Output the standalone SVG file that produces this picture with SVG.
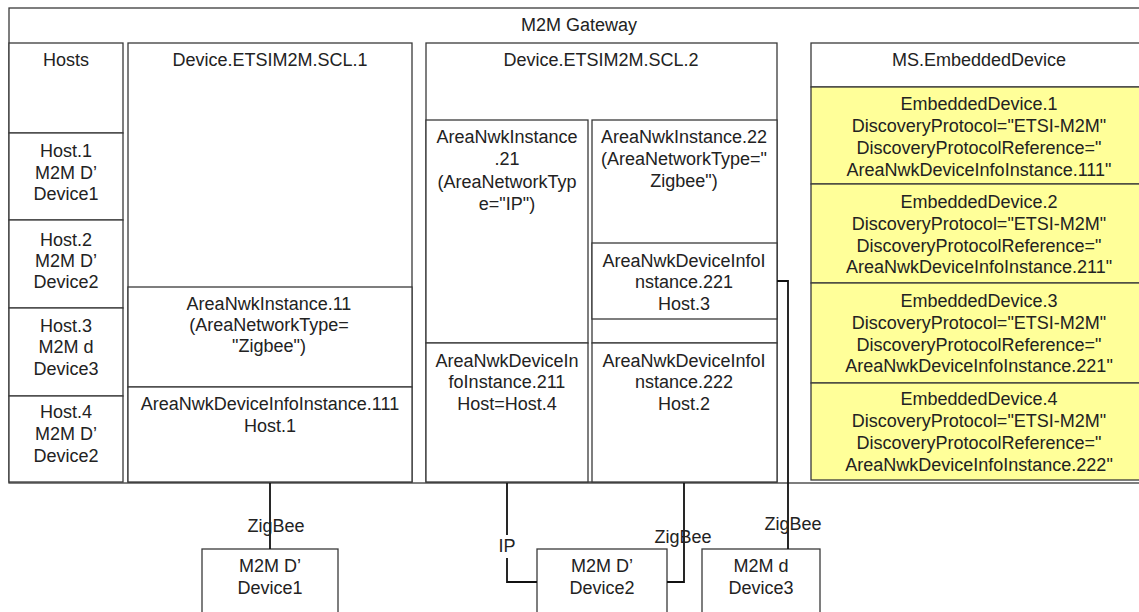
<svg xmlns="http://www.w3.org/2000/svg" width="1139" height="612" viewBox="0 0 1139 612">
<style>
rect{fill:#fff;stroke:#3a3a3a;stroke-width:1.3}
rect.y{fill:#ffff99}
line.d{stroke:#3a3a3a;stroke-width:1.3}
text{font-family:"Liberation Sans",Arial,sans-serif;font-size:18px;fill:#222;text-anchor:middle}
.c{fill:none;stroke:#111;stroke-width:1.8}
</style>
<rect x="0" y="0" width="1139" height="612" style="stroke:none"/>
<g id="gateway">
<rect x="9" y="8" width="1145" height="475"/>
<text x="579" y="31">M2M Gateway</text>
</g>
<g id="hosts">
<rect x="9" y="43" width="114" height="90"/>
<text x="66" y="66">Hosts</text>
<rect x="9" y="133" width="114" height="87"/>
<text x="66" y="157">Host.1<tspan x="66" y="179">M2M D’</tspan><tspan x="66" y="200">Device1</tspan></text>
<rect x="9" y="220" width="114" height="88"/>
<text x="66" y="246">Host.2<tspan x="66" y="267">M2M D’</tspan><tspan x="66" y="288">Device2</tspan></text>
<rect x="9" y="308" width="114" height="88"/>
<text x="66" y="332">Host.3<tspan x="66" y="353">M2M d</tspan><tspan x="66" y="375">Device3</tspan></text>
<rect x="9" y="396" width="114" height="86"/>
<text x="66" y="418">Host.4<tspan x="66" y="440">M2M D’</tspan><tspan x="66" y="462">Device2</tspan></text>
</g>
<g id="scl1">
<rect x="128" y="43" width="284" height="439"/>
<text x="270" y="66">Device.ETSIM2M.SCL.1</text>
<rect x="128" y="287" width="284" height="100"/>
<text x="269" y="310">AreaNwkInstance.11<tspan x="269" y="331">(AreaNetworkType=</tspan><tspan x="269" y="352">"Zigbee")</tspan></text>
<rect x="128" y="387" width="284" height="95"/>
<text x="270" y="410">AreaNwkDeviceInfoInstance.111<tspan x="270" y="432">Host.1</tspan></text>
</g>
<g id="scl2">
<rect x="426" y="43" width="351" height="439"/>
<text x="601" y="66">Device.ETSIM2M.SCL.2</text>
<rect x="426" y="120" width="162" height="223"/>
<text x="507" y="143">AreaNwkInstance<tspan x="507" y="165">.21</tspan><tspan x="507" y="188">(AreaNetworkTyp</tspan><tspan x="507" y="210">e="IP")</tspan></text>
<rect x="592" y="120" width="185" height="223"/>
<text x="684" y="143">AreaNwkInstance.22<tspan x="684" y="165">(AreaNetworkType="</tspan><tspan x="684" y="187">Zigbee")</tspan></text>
<rect x="592" y="243" width="185" height="76"/>
<text x="684" y="267">AreaNwkDeviceInfoI<tspan x="684" y="288">nstance.221</tspan><tspan x="684" y="310">Host.3</tspan></text>
<rect x="426" y="343" width="162" height="139"/>
<text x="507" y="367">AreaNwkDeviceIn<tspan x="507" y="388">foInstance.211</tspan><tspan x="507" y="410">Host=Host.4</tspan></text>
<rect x="592" y="343" width="185" height="139"/>
<text x="684" y="367">AreaNwkDeviceInfoI<tspan x="684" y="388">nstance.222</tspan><tspan x="684" y="410">Host.2</tspan></text>
</g>
<g id="embedded">
<rect x="811" y="43" width="340" height="44"/>
<text x="979" y="66">MS.EmbeddedDevice</text>
<rect class="y" x="811" y="87" width="340" height="97"/>
<text x="979" y="110">EmbeddedDevice.1<tspan x="979" y="132">DiscoveryProtocol="ETSI-M2M"</tspan><tspan x="979" y="154">DiscoveryProtocolReference="</tspan><tspan x="979" y="176">AreaNwkDeviceInfoInstance.111"</tspan></text>
<rect class="y" x="811" y="184" width="340" height="99"/>
<text x="979" y="208">EmbeddedDevice.2<tspan x="979" y="230">DiscoveryProtocol="ETSI-M2M"</tspan><tspan x="979" y="252">DiscoveryProtocolReference="</tspan><tspan x="979" y="273">AreaNwkDeviceInfoInstance.211"</tspan></text>
<rect class="y" x="811" y="283" width="340" height="100"/>
<text x="979" y="307">EmbeddedDevice.3<tspan x="979" y="329">DiscoveryProtocol="ETSI-M2M"</tspan><tspan x="979" y="351">DiscoveryProtocolReference="</tspan><tspan x="979" y="372">AreaNwkDeviceInfoInstance.221"</tspan></text>
<rect class="y" x="811" y="383" width="340" height="97"/>
<text x="979" y="405">EmbeddedDevice.4<tspan x="979" y="427">DiscoveryProtocol="ETSI-M2M"</tspan><tspan x="979" y="449">DiscoveryProtocolReference="</tspan><tspan x="979" y="471">AreaNwkDeviceInfoInstance.222"</tspan></text>
</g>
<g id="device1">
<rect x="202" y="549" width="136" height="75"/>
<text x="270" y="572">M2M D’<tspan x="270" y="594">Device1</tspan></text>
</g>
<g id="device2">
<rect x="537" y="549" width="130" height="75"/>
<text x="602" y="572">M2M D’<tspan x="602" y="594">Device2</tspan></text>
</g>
<g id="device3">
<rect x="702" y="549" width="118" height="75"/>
<text x="761" y="572">M2M d<tspan x="761" y="594">Device3</tspan></text>
</g>
<g id="connectors">
<path class="c" d="M270 483 V549"/>
<text x="276" y="532">ZigBee</text>
<path class="c" d="M507 483 V582 H537"/>
<rect x="497" y="535" width="20" height="23" style="stroke:none"/>
<text x="507" y="552">IP</text>
<path class="c" d="M684 483 V582 H667"/>
<text x="683" y="543">ZigBee</text>
<path class="c" d="M777 281 H788 V549"/>
<text x="793" y="530">ZigBee</text>
</g>
</svg>
